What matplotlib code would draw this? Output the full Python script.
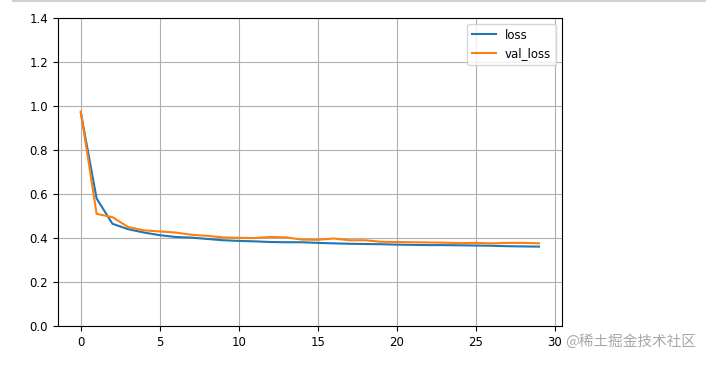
import matplotlib.pyplot as plt
from matplotlib.lines import Line2D

# training history values
epochs = list(range(30))
loss = [0.97, 0.58, 0.465, 0.44, 0.425, 0.413, 0.405, 0.402, 0.396, 0.39,
        0.387, 0.385, 0.382, 0.381, 0.381, 0.378, 0.376, 0.374, 0.373, 0.372,
        0.37, 0.369, 0.368, 0.368, 0.367, 0.366, 0.365, 0.363, 0.362, 0.361]
val_loss = [0.975, 0.51, 0.495, 0.45, 0.435, 0.43, 0.425, 0.415, 0.41, 0.403,
            0.401, 0.4, 0.405, 0.403, 0.393, 0.392, 0.398, 0.39, 0.39, 0.383,
            0.382, 0.381, 0.38, 0.379, 0.377, 0.378, 0.376, 0.378, 0.378, 0.376]

plt.rcParams['font.family'] = ['DejaVu Sans', 'Noto Sans CJK SC']

fig = plt.figure(figsize=(7.06, 3.66), dpi=100)
ax = fig.add_axes([0.082, 0.109, 0.714, 0.842])

ax.plot(epochs, loss, color='#1f77b4', label='loss')
ax.plot(epochs, val_loss, color='#ff7f0e', label='val_loss')

ax.set_ylim(0, 1.4)
ax.set_xticks([0, 5, 10, 15, 20, 25, 30])
ax.set_yticks([0.0, 0.2, 0.4, 0.6, 0.8, 1.0, 1.2, 1.4])
ax.tick_params(labelsize=8.5)
ax.grid(True, color='#b0b0b0', linewidth=0.8)
ax.legend(loc='upper right', fontsize=8.5)

# thin line at the top of the screenshot and the watermark
fig.add_artist(Line2D([13 / 706, 1], [0.997, 0.997], color='#d0d0d0', linewidth=1.5))
fig.text(0.8, 0.056, '@稀土掘金技术社区', fontsize=10.5, color='#a8a8a8',
         family=['Noto Sans CJK SC', 'DejaVu Sans'])

fig.savefig('out.png', dpi=100)
